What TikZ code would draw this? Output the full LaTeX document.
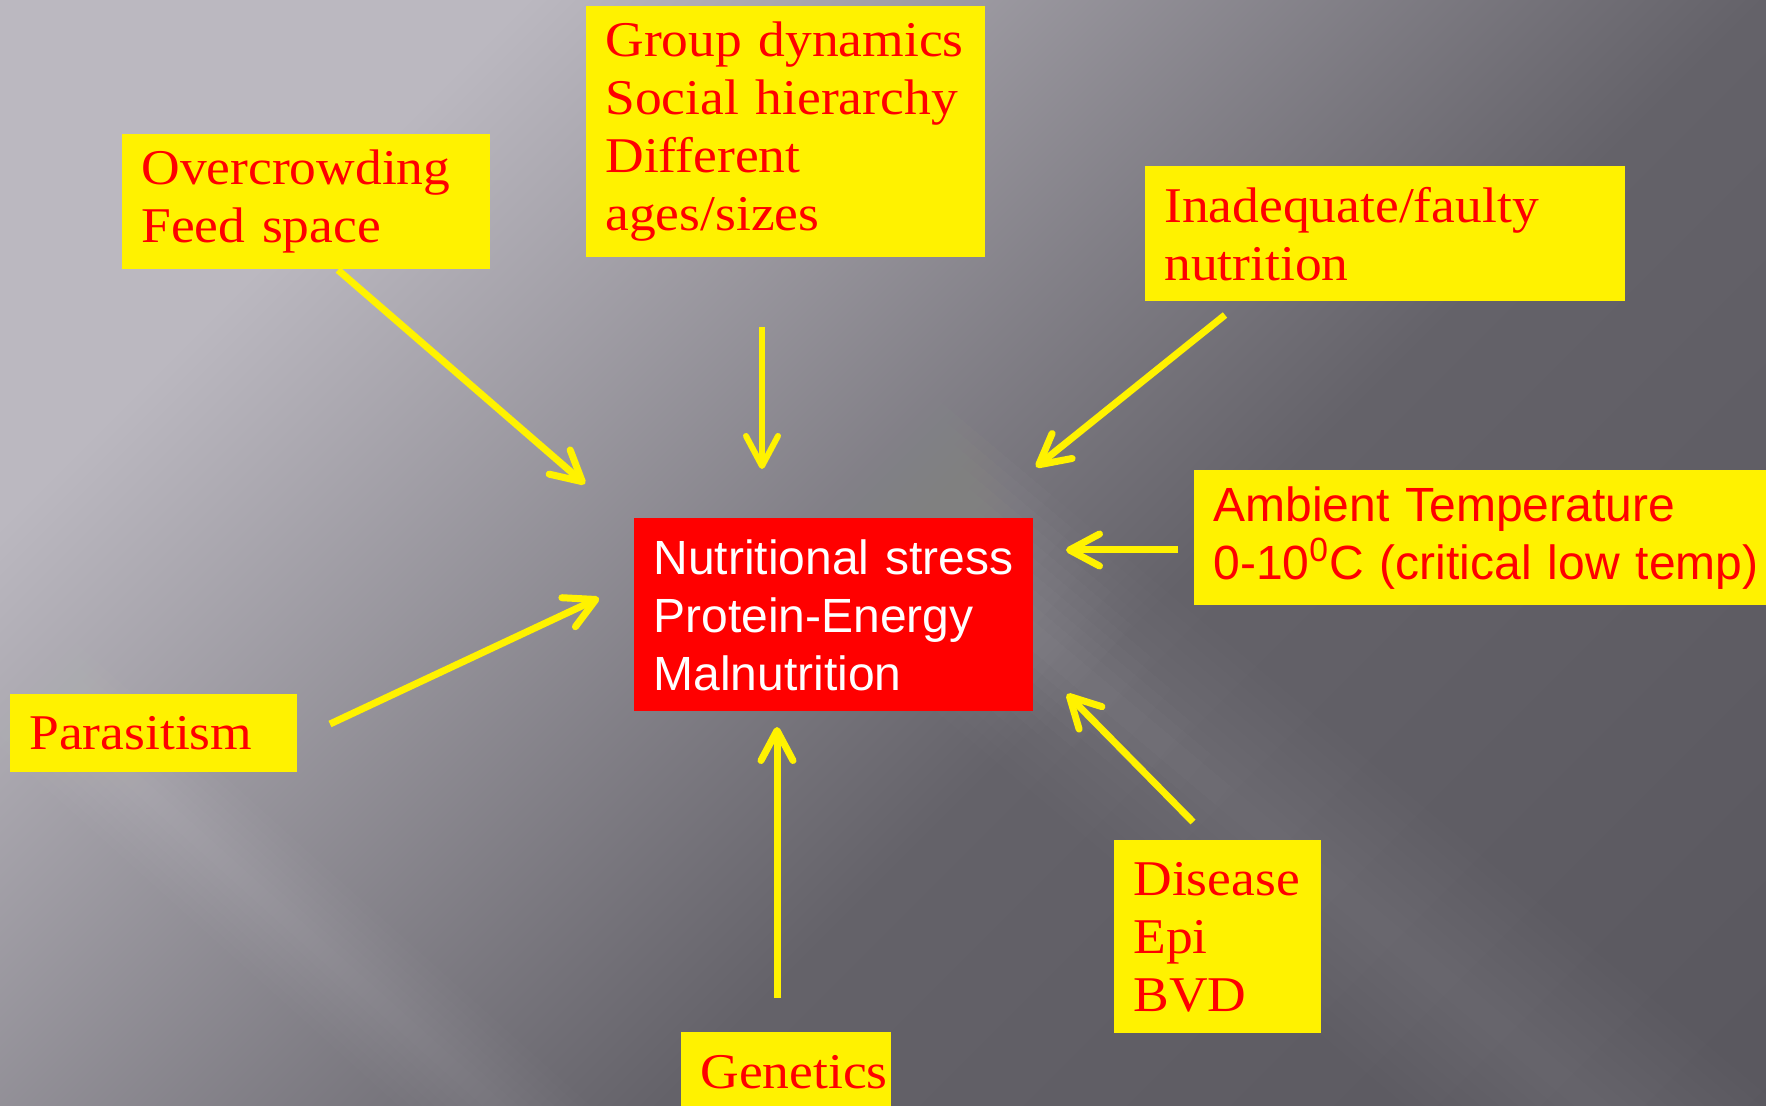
\documentclass[tikz,border=0pt]{standalone}
\usepackage{fontspec}
\setmainfont[FakeStretch=1.07]{Liberation Serif}
\newfontfamily\arialfont{Liberation Sans}
\usetikzlibrary{arrows.meta}

\definecolor{bglight}{RGB}{187,184,192}
\definecolor{bgmid}{RGB}{100,98,105}
\definecolor{bgdark}{RGB}{88,86,93}

\tikzset{
  causebox/.style={fill=yellow, text=red, anchor=north west, align=left,
    inner xsep=9.5pt, inner ysep=0pt, font=\fontsize{25}{29}\selectfont},
  sansbox/.style={font=\arialfont\fontsize{24}{29}\selectfont},
  stressbox/.style={causebox, sansbox, fill=red, text=white},
  arr/.style={yellow, line width=3.5pt,
    -{Straight Barb[length=15pt, width=16pt, line cap=round, line join=round]}},
  thinarr/.style={arr, line width=3pt},
}

\begin{document}
\begin{tikzpicture}[x=0.5pt,y=-0.5pt]
\clip (0,0) rectangle (1766,1106);

%Background
\shade[top color=bglight, bottom color=bgdark, middle color=bgmid, shading angle=45] (0,0) rectangle (1766,1766);
% light streaks
\begin{scope}[rotate around={50:(760,407)}]
  \foreach \w in {12,24,...,120}{
    \fill[white, fill opacity=0.006] (760-\w,-1000) rectangle (760+\w,1800);
    \fill[white, fill opacity=0.008] (760-\w,-1000) rectangle (760+\w,657+390-3*\w);
  }
\end{scope}
\begin{scope}[rotate around={48:(236,873)}]
  \foreach \w in {8,16,...,64}{
    \fill[white, fill opacity=0.01] (236-\w,-500) rectangle (236+\w,2000);
  }
\end{scope}

%Boxes
\node[causebox, text width=165pt, minimum height=67.5pt] (crowd) at (122,134) {Overcrowding\\Feed space};
\node[causebox, text width=180.5pt, minimum height=125.5pt] (group) at (586,6) {Group dynamics\\Social hierarchy\\Different\\ages/sizes};
\node[causebox, text width=221pt, minimum height=67.5pt] (feed) at (1145,166) {Inadequate/faulty\\nutrition};
\node[causebox, sansbox, text width=300pt, minimum height=67.5pt] (temp) at (1194,470) {Ambient Temperature\\0-10\textsuperscript{0}C (critical low temp)};
\node[stressbox, text width=180.5pt, minimum height=96.5pt] (stress) at (634,518) {Nutritional stress\\Protein-Energy\\Malnutrition};
\node[causebox, text width=124.5pt, minimum height=39pt] (para) at (10,694) {Parasitism};
\node[causebox, text width=84.5pt, minimum height=96.5pt] (dis) at (1114,840) {Disease\\Epi\\BVD};
\node[causebox, text width=86pt, minimum height=40pt] (gen) at (681,1032) {Genetics};

%Arrow ends
\coordinate (crowd-out) at (338,270);  \coordinate (crowd-in) at (585,484);
\coordinate (group-out) at (762,327);  \coordinate (group-in) at (762,469);
\coordinate (feed-out) at (1225,315);  \coordinate (feed-in) at (1036,467);
\coordinate (temp-out) at (1178,550);  \coordinate (temp-in) at (1066,550);
\coordinate (para-out) at (330,724);   \coordinate (para-in) at (599,598);
\coordinate (gen-out) at (777,998);    \coordinate (gen-in) at (777,727);
\coordinate (dis-out) at (1193,822);   \coordinate (dis-in) at (1067,694);

%Arrows
\draw[arr] (crowd-out) -- (crowd-in);
\draw[thinarr] (group-out) -- (group-in);
\draw[arr] (feed-out) -- (feed-in);
\draw[arr] (temp-out) -- (temp-in);
\draw[arr] (para-out) -- (para-in);
\draw[arr] (gen-out) -- (gen-in);
\draw[arr] (dis-out) -- (dis-in);

\end{tikzpicture}
\end{document}
